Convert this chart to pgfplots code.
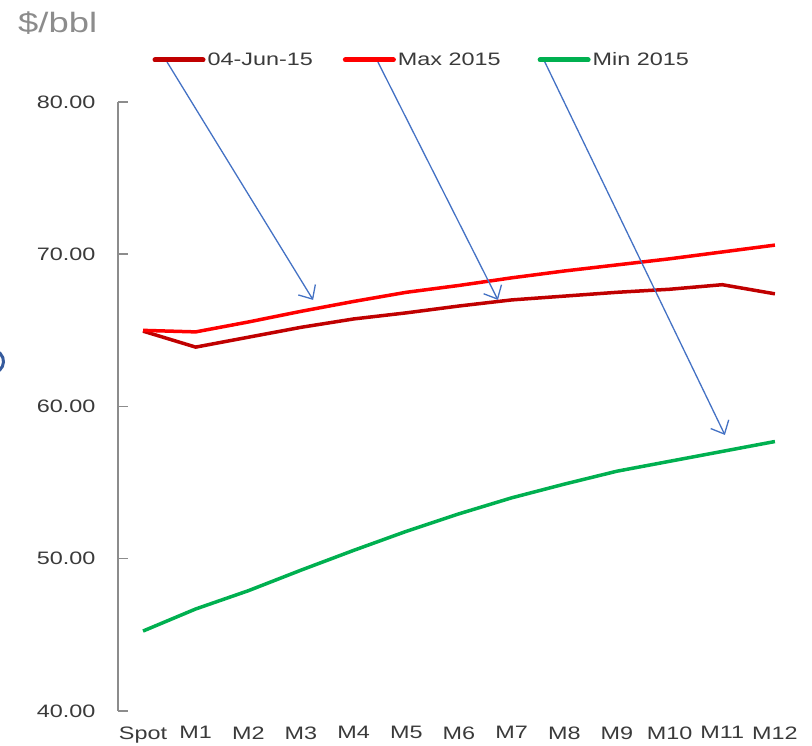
\documentclass[border=0pt]{standalone}
\usepackage{fontspec}
\setmainfont[FakeStretch=1.3]{Liberation Sans}
\usepackage{pgfplots}
\pgfplotsset{compat=1.18}
\usepackage{pgfplotstable}
\usetikzlibrary{arrows.meta}
\definecolor{dred}{HTML}{C00000}
\definecolor{bred}{HTML}{FF0000}
\definecolor{mgreen}{HTML}{00B050}
\definecolor{arrowblue}{HTML}{4472C4}
\definecolor{txt}{HTML}{3A3A3A}
\definecolor{axgray}{HTML}{8C8C8C}

\pgfplotstableread{
x cur max min
0 64.95 65.00 45.25
1 63.90 64.90 46.70
2 64.55 65.55 47.90
3 65.20 66.25 49.25
4 65.75 66.90 50.55
5 66.15 67.50 51.80
6 66.60 67.95 52.95
7 67.00 68.45 54.00
8 67.25 68.90 54.90
9 67.50 69.30 55.75
10 67.70 69.70 56.40
11 68.00 70.15 57.05
12 67.40 70.60 57.70
}\datatable

\begin{document}
\begin{tikzpicture}[x=1pt,y=1pt]
\path[use as bounding box] (0,0) rectangle (812,746);
\node[anchor=base west, text=axgray, font=\fontsize{28}{30}\selectfont, inner sep=0pt] at (18,713) {\$/bbl};
\draw[color=arrowblue!80!black, line width=3pt] ([shift={(-70:11.5)}]-8,384.5) arc[start angle=-70, end angle=70, radius=11.5];
\begin{axis}[
  at={(118pt,35pt)}, anchor=south west,
  scale only axis, width=678pt, height=609pt,
  xmin=-0.475, xmax=12.4, ymin=40, ymax=80,
  axis lines=left,
  axis line style={-},
  x axis line style={draw=none},
  y axis line style={draw=axgray, line width=1.5pt},
  xtick={0,...,12},
  xticklabels={Spot,M1,M2,M3,M4,M5,M6,M7,M8,M9,M10,M11,M12},
  x tick style={draw=none},
  ytick={40,50,60,70,80},
  yticklabels={40.00,50.00,60.00,70.00,80.00},
  y tick style={draw=axgray, line width=1.5pt},
  tick align=inside,
  major tick length=10pt,
  /pgf/number format/assume math mode=true,
  ticklabel style={font=\fontsize{18}{20}\selectfont, text=txt},
  yticklabel style={xshift=-19pt},
  xticklabel style={yshift=-12pt},
  clip=false,
  legend columns=3,
  legend style={draw=none, fill=none, inner sep=0pt, outer sep=0pt,
    at={(0.0509,1.069)}, anchor=west,
    font=\fontsize{18}{20}\selectfont, text=txt,
    /tikz/every even column/.append style={column sep=28pt}},
  legend image code/.code={\draw[#1, line width=5pt, line cap=round] (0pt,0pt) -- (48pt,0pt);},
]
\addplot[dred, line width=3.5pt, line join=round] table[x=x, y=cur] {\datatable};
\addlegendentry{04-Jun-15}
\addplot[bred, line width=3.5pt, line join=round] table[x=x, y=max] {\datatable};
\addlegendentry{Max 2015\rule{7pt}{0pt}}
\addplot[mgreen, line width=3.5pt, line join=round] table[x=x, y=min] {\datatable};
\addlegendentry{Min 2015}
\draw[arrowblue, line width=1.3pt, -{Straight Barb[length=11pt,width=20pt]}] (axis cs:0.456,82.63) -- (axis cs:3.23,67.0);
\draw[arrowblue, line width=1.3pt, -{Straight Barb[length=11pt,width=20pt]}] (axis cs:4.46,82.63) -- (axis cs:6.74,67.0);
\draw[arrowblue, line width=1.3pt, -{Straight Barb[length=11pt,width=20pt]}] (axis cs:7.63,82.63) -- (axis cs:11.05,58.13);
\end{axis}
\end{tikzpicture}
\end{document}
